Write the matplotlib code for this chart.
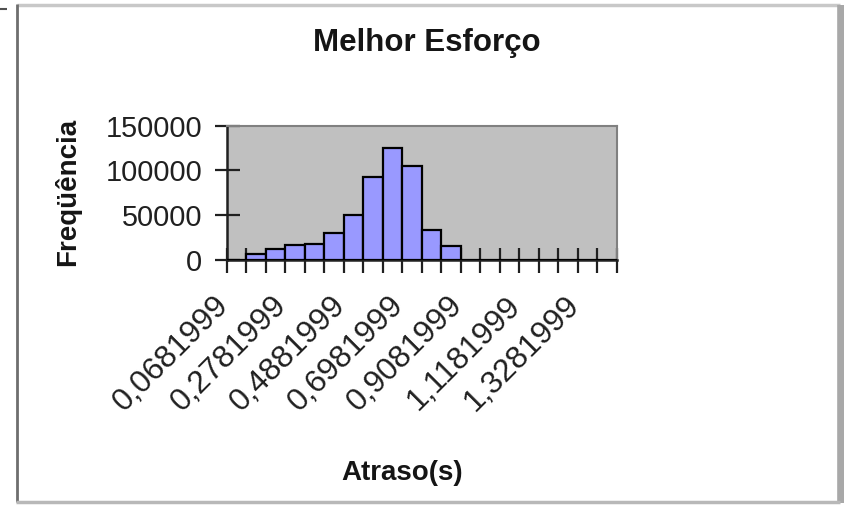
import matplotlib
matplotlib.use("Agg")
import matplotlib.pyplot as plt
import matplotlib.transforms as mtransforms
from matplotlib.lines import Line2D
import numpy as np

plt.rcParams['font.family'] = ['Liberation Sans', 'DejaVu Sans']

title = "Melhor Esforço"
xlabel = "Atraso(s)"
ylabel = "Freqüência"

bins = ["0,0681999", "0,1381999", "0,2081999", "0,2781999", "0,3481999",
        "0,4181999", "0,4881999", "0,5581999", "0,6281999", "0,6981999",
        "0,7681999", "0,8381999", "0,9081999", "0,9781999", "1,0481999",
        "1,1181999", "1,1881999", "1,2581999", "1,3281999", "1,3981999"]
counts = [0, 7000, 12000, 16500, 18000, 30500, 50500, 92500, 125000, 105000,
          34000, 15500, 0, 0, 0, 0, 0, 0, 0, 0]
yticks = [0, 50000, 100000, 150000]
label_step = 3

W, H = 844, 505
fig = plt.figure(figsize=(W / 100, H / 100), dpi=100)
fig.patch.set_facecolor('white')

ax = fig.add_axes([226.7 / W, 1 - 260 / H, (616.5 - 226.7) / W, (260 - 125.7) / H])
ax.set_facecolor('#C0C0C0')

x = np.arange(len(bins))
ax.bar(x, counts, width=1.0, color='#9999FF', edgecolor='black', linewidth=1.6, zorder=3)

ax.set_xlim(-0.5, len(bins) - 0.5)
ax.set_ylim(0, 150000)

ax.set_yticks(yticks)
ax.set_yticklabels([str(v) for v in yticks], fontsize=20.8, color='#202020')
ax.tick_params(axis='y', direction='inout', length=18, width=1.6, pad=8.5, color='#202020')

# category boundaries as major ticks (no labels)
ax.set_xticks(np.arange(-0.5, len(bins) + 0.5, 1.0))
ax.set_xticklabels([])
ax.tick_params(axis='x', which='major', direction='inout', length=18, width=1.6, color='#202020')

# labelled categories as minor ticks
pos = x[::label_step]
labs = bins[::label_step]
ax.set_xticks(pos, minor=True)
ax.set_xticklabels(labs, minor=True, fontsize=22.8, rotation=45, ha='right', va='top',
                   rotation_mode='anchor', color='#202020')
ax.tick_params(axis='x', which='minor', length=0, pad=22)
offset = mtransforms.ScaledTranslation(-23 / 100, 0, fig.dpi_scale_trans)
for lab in ax.get_xticklabels(minor=True):
    lab.set_transform(lab.get_transform() + offset)

for s in ['top', 'right']:
    ax.spines[s].set_color('#808080')
    ax.spines[s].set_linewidth(1.5)
ax.spines['left'].set_color('#202020')
ax.spines['left'].set_linewidth(1.8)
ax.spines['bottom'].set_color('#202020')
ax.spines['bottom'].set_linewidth(1.8)

fig.text(427 / W, 1 - 43 / H, title, fontsize=22.5, fontweight='bold', ha='center', va='center', color='#151515')
fig.text(402 / W, 1 - 473 / H, xlabel, fontsize=20, fontweight='bold', ha='center', va='center', color='#151515')
fig.text(68 / W, 1 - 192 / H, ylabel, fontsize=20, fontweight='bold', ha='center', va='center',
         rotation=90, color='#151515')

# outer chart border
def fline(x0, y0, x1, y1, c, lw):
    fig.add_artist(Line2D([x0 / W, x1 / W], [1 - y0 / H, 1 - y1 / H], color=c, linewidth=lw,
                          transform=fig.transFigure, solid_capstyle='butt'))

fline(16.5, 5, 840, 5, '#C8C8C8', 2.5)
fline(16.5, 4, 16.5, 502, '#6E6E6E', 2.0)
fline(840.5, 5, 840.5, 503, '#A8A8A8', 5.5)
fline(16, 501.5, 840, 501.5, '#B8B8B8', 2.5)
fline(0, 8.5, 7, 8.5, '#505050', 1.5)

fig.savefig('out.png', dpi=100, facecolor='white')
